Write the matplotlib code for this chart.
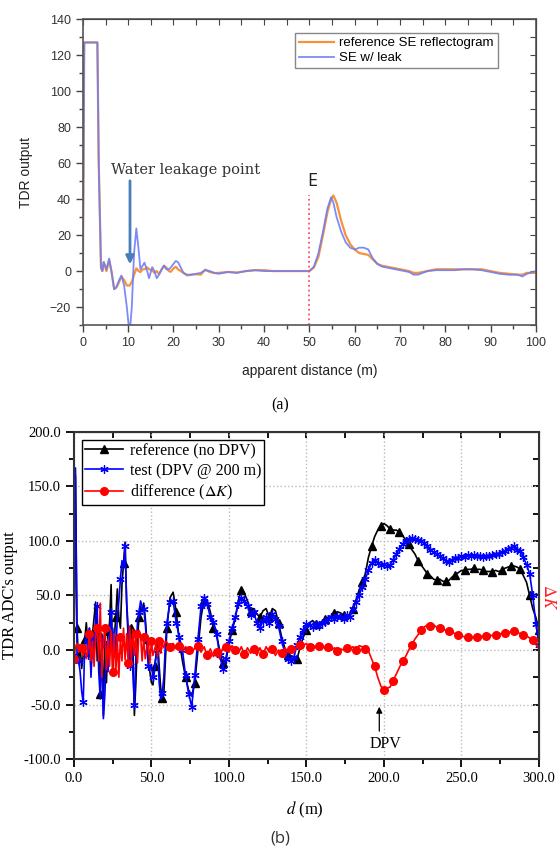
import numpy as np
import matplotlib
matplotlib.use("Agg")
import matplotlib.pyplot as plt
from matplotlib.ticker import MultipleLocator, FormatStrFormatter

plt.rcParams['mathtext.fontset'] = 'stix'

# ---- panel (a): TDR reflectograms ----
x_a = [0, 0.3, 0.6, 3.2, 3.5, 4.0, 4.3, 4.6, 5.2, 5.8, 6.3, 6.9, 7.4, 8.0, 8.5, 9.1, 9.7,
       10.3, 10.8, 11.3, 11.8, 12.3, 12.7, 13.2, 13.6, 14.2, 14.6, 15.3, 15.8, 16.3, 16.8,
       17.4, 17.9, 18.4, 19.0, 19.4, 20.0, 20.5, 21.0, 21.6, 22.2, 23.0, 24.0, 25.0, 26.0,
       27.0, 28.0, 29.0, 30.0, 32.0, 34.0, 36.0, 38.0, 40.0, 42.0, 45.0, 48.0, 50.0, 51.0,
       52.0, 53.0, 54.0, 54.8, 55.3, 56.0, 57.0, 58.0, 59.0, 60.0, 61.0, 62.0, 63.0, 64.0,
       65.0, 66.0, 68.0, 70.0, 72.0, 73.0, 74.0, 76.0, 78.0, 80.0, 82.0, 84.0, 86.0, 88.0,
       90.0, 92.0, 94.0, 96.0, 97.0, 98.0, 100.0]
ref_a = [0, 127, 127, 127, 60, 2, 0, 5, 0, 6, 0, -10, -9, -6, -3, -5, -8,
         -8, -6, -2, 1.5, 0, -0.5, 1, 1, 2, 1, 0.5, -1, 0, -1.7,
         1, 3, 2, 0, -0.4, 1.5, 2.4, 1, 0, -1, -2.4, -2, -1.7, -2,
         0.8, -0.5, -1.1, -1, -0.5, -0.8, 0, 0.5, 0.5, 0, 0, 0, 0, 2,
         8, 20, 33, 40, 42, 38, 28, 20, 15, 12, 10, 9.5, 9, 6.5,
         4, 3, 2, 1, 0, -1, -1, 0, 1, 1, 1, 1, 1, 1,
         0, -1, -1.5, -2, -2, -1, -1]
leak_a = [0, 127, 127, 127, 60, 2, 0, 5, 1, 7, 0, -10, -9, -5, -2.5, -8, -20,
          -35, -20, 10, 23.7, 12, 1, 3, 4.7, 0, -4, 2.2, 0, -4, -2,
          1, 3, 1, 1, 2, 4, 5.6, 5, 2, -1, -2, -2, -1.5, -1,
          0.5, 0, -1, -1.5, -0.5, -1, 0, 0.5, 0, 0, 0, 0, 0, 2.5,
          10, 22, 35, 41, 38, 30, 22, 16, 13, 12, 13, 13, 12, 7,
          4, 2.5, 1.5, 0.5, -0.5, -2, -2, 0, 0.5, 0.5, 0.5, 1, 1, 0.5,
          -0.5, -1.5, -2, -2, -3, -1.5, 0]
leak_point = 10.4
end_point = 50

# ---- panel (b): ADC output, reference / test / difference ----
d_b = np.concatenate([np.arange(0, 60, 1), np.arange(60, 301, 2)])
ref_b = [0, 160, 20, -10, 5, -17, -5, 10, 25, 5, 20, -20, 15, 30, 44, -10, 20, -40, 15, -60,
         10, -30, 17, 25, 60, -20, 10, 30, 56, 30, 20, 60, 80, 99, 43, 10, -10, 20, 5, -60,
         -29, 10, 30, 40, 35, 43, 30, 10, -10, -20, -30, -32, -15, -5, 10, -15, -35, -44, -40, -10,
         20, 48, 53, 35, 8, -10, -25, -37, -42, -30, 0, 30, 46, 45, 35, 20, 14, 0, -12, -10,
         5, 18, 28, 45, 55, 52, 45, 36, 38, 33, 30, 36, 38, 30, 38, 36, 25, 12, 2, -5,
         -9, -8, -8, 3, 12, 18, 25, 27, 24, 24, 26, 28, 30, 31, 34, 35, 34, 32, 31, 32,
         38, 46, 55, 62, 70, 85, 95, 104, 110, 114, 116, 114, 111, 110, 110, 108, 105, 101, 97, 92,
         88, 82, 78, 74, 70, 68, 65, 64, 65, 63, 63, 64, 67, 69, 71, 73, 73, 74, 74, 75,
         74, 74, 73, 72, 72, 72, 73, 72, 73, 75, 76, 77, 77, 76, 74, 68, 62, 50, 38, 30, 18]
test_b = [-5, 167, -4, -10, -20, -38, -48, 5, 15, -5, 20, -25, 10, -5, 30, 40, -20, -45, 10, -63,
          -40, 5, -20, 15, 35, 0, 20, -5, 30, 45, 65, 82, 75, 95, 45, 20, -15, 10, -20, -50,
          -5, 25, 35, 45, 40, 38, 25, 5, -15, -18, -14, -25, -20, -5, 0, -30, -45, -39, -25, 5,
          25, 44, 45, 25, 12, 0, -23, -40, -52, -23, 10, 40, 48, 42, 30, 26, 15, -5, -17, -8,
          8, 20, 30, 42, 48, 45, 40, 32, 35, 25, 20, 27, 30, 25, 33, 28, 22, 8, -2, -8,
          -10, -6, 5, 12, 18, 24, 23, 21, 24, 22, 25, 26, 28, 30, 28, 31, 30, 28, 32, 30,
          38, 44, 50, 58, 65, 73, 80, 83, 80, 78, 79, 77, 78, 83, 88, 93, 97, 100, 102, 103,
          102, 101, 100, 98, 95, 92, 90, 88, 86, 84, 82, 81, 83, 84, 84, 86, 85, 87, 86, 87,
          86, 86, 85, 86, 86, 87, 88, 88, 90, 91, 93, 94, 95, 92, 91, 85, 78, 70, 50, 24, 5]
diff_b = [-8, 3, 6, -2, 5, 2, -5, 4, -8, 0, 15, -10, 8, -15, 13, 20, -10, 43, -25, 9,
          20, -18, 10, -15, 18, -20, 15, -22, 10, -25, 12, -10, 20, -9, 15, -12, 22, -8, 19, -5,
          15, -12, 18, 14, -10, 12, -8, 1, 10, -12, 8, -5, 0, 6, -6, 8, -3, 6, 2, 8,
          7, 3, 6, 1, 4, -1, 3, 0, -3, 2, 4, -2, 3, -5, 1, -6, -2, -8, 2, 3,
          -2, 4, 0, -3, 3, -4, 2, -3, 1, -5, 2, -4, 3, -2, 1, -5, 0, -3, 2, -2,
          1, -1, 3, 5, 4, 6, 3, 5, 2, 4, 5, 1, 3, 0, 2, -1, 1, 0, 2, 1,
          3, 0, 4, 3, 1, -1, -8, -15, -25, -33, -37, -35, -34, -28, -22, -16, -10, -6, 0, 5,
          10, 14, 18, 21, 23, 22, 23, 21, 20, 19, 18, 17, 16, 15, 14, 13, 12, 12, 11, 12,
          12, 13, 12, 13, 14, 13, 14, 15, 15, 16, 17, 16, 17, 16, 15, 14, 13, 11, 9, 5, 1]
dpv_pos = 197

fig = plt.figure(figsize=(5.6, 8.51), dpi=100)

# ---------------- (a) ----------------
ax1 = fig.add_axes([0.148, 0.618, 0.809, 0.3596])
ax1.plot(x_a, ref_a, color='#f7923a', lw=1.6, label='reference SE reflectogram')
ax1.plot(x_a, leak_a, color='#6f7ff5', lw=1.3, alpha=0.9, label='SE w/ leak')
ax1.set_xlim(0, 100)
ax1.set_ylim(-30, 140)
ax1.xaxis.set_major_locator(MultipleLocator(10))
ax1.xaxis.set_minor_locator(MultipleLocator(5))
ax1.yaxis.set_major_locator(MultipleLocator(20))
ax1.yaxis.set_minor_locator(MultipleLocator(10))
ax1.tick_params(which='major', direction='out', length=5, width=1, colors='#444444',
                labelsize=9, labelcolor='#333333')
ax1.tick_params(which='minor', direction='out', length=3, width=1, colors='#444444')
for lab in ax1.get_xticklabels() + ax1.get_yticklabels():
    lab.set_family('Liberation Sans')
for s in ax1.spines.values():
    s.set_color('#555555')
    s.set_linewidth(1.2)
top1 = ax1.secondary_xaxis('top')
top1.xaxis.set_major_locator(MultipleLocator(5))
top1.tick_params(direction='in', length=4, colors='#444444', labeltop=False)
right1 = ax1.secondary_yaxis('right')
right1.yaxis.set_major_locator(MultipleLocator(10))
right1.tick_params(direction='in', length=4, colors='#444444', labelright=False)

ax1.set_xlabel('apparent distance (m)', family='Liberation Sans', fontsize=10, color='#222222')
ax1.set_ylabel('TDR output', family='Liberation Sans', fontsize=10, color='#222222')
ax1.xaxis.set_label_coords(0.5, -0.127)
ax1.yaxis.set_label_coords(-0.11, 0.5)

ax1.vlines(end_point, -30, 42, colors='#ff4d6a', linestyles=':', lw=1.3)
ax1.text(end_point + 0.6, 50, 'E', family='Open Sans', fontsize=13, ha='center', va='center',
         color='#222222')
ax1.annotate('', xy=(leak_point, 2.2), xytext=(leak_point, 51.7),
             arrowprops=dict(arrowstyle='-|>', color='#4a7ebb', lw=2, mutation_scale=12))
ax1.text(22.6, 56, 'Water leakage point', family='DejaVu Serif', fontsize=10.5,
         ha='center', va='center', color='#333333')

leg1 = ax1.legend(loc='upper right', bbox_to_anchor=(0.916, 0.954), borderaxespad=0,
                  prop={'family': 'Liberation Sans', 'size': 9.5}, handlelength=2.7,
                  fancybox=False, framealpha=1, labelspacing=0.2, borderpad=0.3,
                  handletextpad=0.4)
leg1.get_frame().set_edgecolor('#888888')
leg1.get_frame().set_linewidth(1)

fig.text(0.5, 0.524, '(a)', family='Liberation Serif', fontsize=11.5, ha='center', va='center')

# ---------------- (b) ----------------
ax2 = fig.add_axes([0.132, 0.1081, 0.8304, 0.3843])
n1 = 60
mk_ref = list(range(2, n1, 5)) + list(range(n1, len(d_b), 3))
mk_test = list(range(0, n1, 3)) + list(range(n1, len(d_b), 1))
mk_diff = list(range(0, n1, 5)) + list(range(n1 + 1, len(d_b), 3))
ax2.plot(d_b, ref_b, color='black', lw=1.2, marker='^', ms=6, markevery=mk_ref,
         label='reference (no DPV)')
ax2.plot(d_b, test_b, color='#0000ff', lw=1.2, marker=(6, 2, 0), ms=6, mew=0.9,
         markevery=mk_test, label='test (DPV @ 200 m)')
ax2.plot(d_b, diff_b, color='#ff0000', lw=1.2, marker='o', ms=5.5, markevery=mk_diff,
         label=r'difference ($\Delta K$)')
ax2.set_xlim(0, 300)
ax2.set_ylim(-100, 200)
ax2.xaxis.set_major_locator(MultipleLocator(50))
ax2.xaxis.set_minor_locator(MultipleLocator(25))
ax2.yaxis.set_major_locator(MultipleLocator(50))
ax2.yaxis.set_minor_locator(MultipleLocator(25))
ax2.xaxis.set_major_formatter(FormatStrFormatter('%.1f'))
ax2.yaxis.set_major_formatter(FormatStrFormatter('%.1f'))
ax2.grid(True, which='major', color='#bbbbbb', linestyle=':', lw=1)
ax2.tick_params(which='major', direction='out', length=6, width=1.3, labelsize=10.5)
ax2.tick_params(which='minor', direction='out', length=3.5, width=1.3)
for lab in ax2.get_xticklabels() + ax2.get_yticklabels():
    lab.set_family('Liberation Serif')
for s in ax2.spines.values():
    s.set_color('#333333')
    s.set_linewidth(1.5)
top2 = ax2.secondary_xaxis('top')
top2.xaxis.set_major_locator(MultipleLocator(25))
top2.tick_params(direction='in', length=4, width=1.3, labeltop=False)
right2 = ax2.secondary_yaxis('right')
right2.yaxis.set_major_locator(MultipleLocator(25))
right2.tick_params(direction='in', length=4, width=1.3, labelright=False)

ax2.set_xlabel(r'$d$ (m)', family='Liberation Serif', fontsize=12)
ax2.set_ylabel("TDR ADC's output", family='Liberation Serif', fontsize=12)
ax2.xaxis.set_label_coords(0.497, -0.125)
ax2.yaxis.set_label_coords(-0.12, 0.5)
ax2.text(1.022, 0.495, r'$\Delta K$', transform=ax2.transAxes, color='#ff2020', fontsize=12,
         rotation=270, ha='center', va='center')

ax2.annotate('', xy=(dpv_pos, -49.5), xytext=(dpv_pos, -77),
             arrowprops=dict(arrowstyle='-|>', color='black', lw=0.9, mutation_scale=9))
ax2.text(dpv_pos + 4, -86, 'DPV', family='Liberation Serif', fontsize=11.5, ha='center',
         va='center')

leg2 = ax2.legend(loc='upper left', bbox_to_anchor=(0.017, 0.976), borderaxespad=0,
                  prop={'family': 'Liberation Serif', 'size': 11.5}, handlelength=2.4,
                  fancybox=False, framealpha=1, labelspacing=0.25, borderpad=0.2,
                  handletextpad=0.4)
leg2.get_frame().set_edgecolor('black')
leg2.get_frame().set_linewidth(1)

fig.text(0.5, 0.015, '(b)', family='Open Sans', fontsize=12, ha='center', va='center',
         color='#333333')

fig.savefig('out.png', dpi=100)
